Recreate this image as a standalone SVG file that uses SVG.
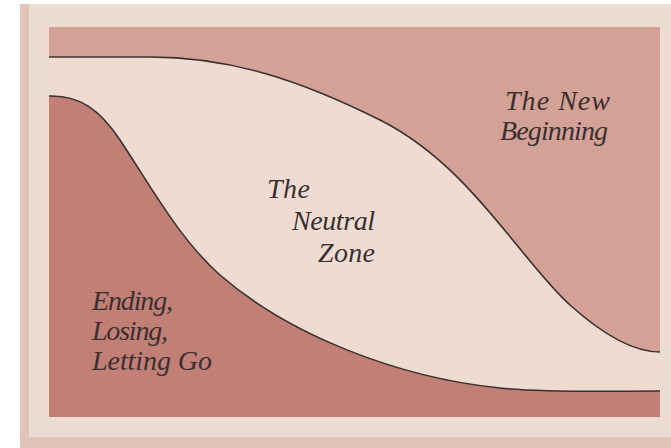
<svg xmlns="http://www.w3.org/2000/svg" width="671" height="448" viewBox="0 0 671 448">
<style>
.lbl{font-family:"Liberation Serif","Times New Roman",serif;font-style:italic;font-size:28px;fill:#3a3030}
.edge{fill:none;stroke:#3a3030;stroke-width:1.6}
</style>
<rect x="0" y="0" width="671" height="448" fill="#ffffff"/>
<rect x="20" y="4" width="651" height="444" fill="#eddcd2"/>
<rect x="20" y="4" width="9" height="444" fill="#e2c4b9"/>
<rect x="20" y="437" width="651" height="11" fill="#e2c4b9"/>
<g id="new-beginning">
<rect x="49" y="27" width="611" height="390" fill="#d4a196"/>
<text class="lbl" x="505" y="110" textLength="105">The New</text>
<text class="lbl" x="500" y="140" textLength="108">Beginning</text>
</g>
<g id="neutral-zone">
<path d="M49,57 L150,57 C230,57 300,80 380,120 C470,165 520,260 570,305 C610,341 640,352 660,352 L660,417 L49,417 Z" fill="#eedcd2"/>
<text class="lbl" x="267" y="198" textLength="43">The</text>
<text class="lbl" x="292" y="230" textLength="83">Neutral</text>
<text class="lbl" x="318" y="262" textLength="57">Zone</text>
</g>
<g id="ending">
<path d="M49,96 C80,95 100,110 120,140 C150,185 180,240 220,275 C290,336 400,378 500,388 C550,393 610,391 660,391 L660,417 L49,417 Z" fill="#c17f76"/>
<text class="lbl" x="92" y="310" textLength="81">Ending,</text>
<text class="lbl" x="92" y="340" textLength="76">Losing,</text>
<text class="lbl" x="92" y="370" textLength="120">Letting Go</text>
</g>
<g id="connectors">
<path class="edge" d="M49,57 L150,57 C230,57 300,80 380,120 C470,165 520,260 570,305 C610,341 640,352 660,352"/>
<path class="edge" d="M49,96 C80,95 100,110 120,140 C150,185 180,240 220,275 C290,336 400,378 500,388 C550,393 610,391 660,391"/>
</g>
</svg>
